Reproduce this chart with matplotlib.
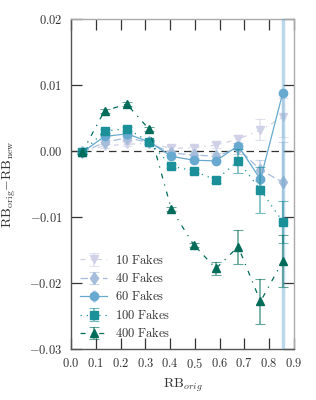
import matplotlib.pyplot as plt
import numpy as np
from matplotlib.ticker import FuncFormatter, MultipleLocator

plt.rcParams['mathtext.fontset'] = 'cm'
plt.rcParams['font.family'] = 'serif'
plt.rcParams['font.serif'] = ['DejaVu Serif']

rb = [0.045, 0.135, 0.225, 0.315, 0.405, 0.495, 0.585, 0.675, 0.765, 0.855]

d10 = [-0.0002, 0.0008, 0.0010, 0.0012, 0.0004, 0.0005, 0.0009, 0.0018, 0.0032, 0.0051]
e10 = [0.0002, 0.0003, 0.0003, 0.0003, 0.0003, 0.0003, 0.0004, 0.0006, 0.0016, 0.0030]
d40 = [-0.0002, 0.0013, 0.0020, 0.0013, -0.0003, -0.0006, -0.0008, 0.0004, -0.0029, -0.0047]
e40 = [0.0002, 0.0003, 0.0003, 0.0003, 0.0003, 0.0004, 0.0005, 0.0008, 0.0016, 0.0060]
d60 = [-0.0002, 0.0022, 0.0026, 0.0014, -0.0008, -0.0014, -0.0015, 0.0008, -0.0043, 0.0088]
e60 = [0.0002, 0.0003, 0.0003, 0.0003, 0.0003, 0.0004, 0.0004, 0.0006, 0.0010, 0.0400]
d100 = [-0.0002, 0.0030, 0.0034, 0.0014, -0.0023, -0.0030, -0.0044, -0.0015, -0.0059, -0.0107]
e100 = [0.0002, 0.0003, 0.0003, 0.0003, 0.0003, 0.0003, 0.0005, 0.0018, 0.0035, 0.0032]
d400 = [-0.0002, 0.0061, 0.0071, 0.0033, -0.0088, -0.0142, -0.0178, -0.0145, -0.0228, -0.0167]
e400 = [0.0002, 0.0003, 0.0003, 0.0003, 0.0003, 0.0003, 0.0010, 0.0026, 0.0034, 0.0039]

labels = ['10 Fakes', '40 Fakes', '60 Fakes', '100 Fakes', '400 Fakes']
colors = ['#d0d1e6', '#a6bddb', '#67a9cf', '#1c9099', '#016c59']
markers = ['v', 'd', 'o', 's', '^']
styles = [(0, (4, 4, 1, 4)), (0, (6, 3)), '-', (0, (1, 4)), (0, (4, 5, 1, 5))]

fig = plt.figure(figsize=(3.16, 4.0), dpi=100)
ax = fig.add_axes([0.225, 0.1275, 0.705, 0.825])

ax.axhline(0, color='#333333', lw=0.9, ls=(0, (6, 4)), zorder=1)

series = [(d10, e10), (d40, e40), (d60, e60), (d100, e100), (d400, e400)]
for i, (d, e) in enumerate(series):
    elw = 2.5 if i == 2 else 1.1
    cont = ax.errorbar(rb, d, yerr=e, color=colors[i], marker=markers[i], ms=6,
                       ls=styles[i], lw=0.9, ecolor=colors[i], elinewidth=elw,
                       capsize=3.5 if i != 2 else 0, capthick=0.8,
                       label=r'$\mathrm{%s}$' % labels[i].replace(' ', r'\ '),
                       zorder=2 + i)
    for c in cont[1]:
        c.set_alpha(0.6)
    for b in cont[2]:
        b.set_alpha(0.45 if i == 2 else 0.65)

ax.set_xlim(0, 0.9)
ax.set_ylim(-0.03, 0.02)
ax.xaxis.set_major_locator(MultipleLocator(0.1))
ax.yaxis.set_major_locator(MultipleLocator(0.01))
ax.xaxis.set_major_formatter(FuncFormatter(lambda v, p: r'$%.1f$' % v))
ax.yaxis.set_major_formatter(FuncFormatter(lambda v, p: r'$%.2f$' % (0 if abs(v) < 1e-9 else v)))
ax.tick_params(direction='in', length=8, width=0.9, top=True, right=True,
               labelsize=9, color='#333333', labelcolor='#333333', pad=6)
for s in ax.spines.values():
    s.set_color('#555555')
    s.set_linewidth(1.0)
ax.spines['right'].set_color('#aaaaaa')
ax.spines['top'].set_color('#aaaaaa')

ax.set_xlabel(r'$\mathrm{RB}_{orig}$', fontsize=10, color='#333333')
ax.set_ylabel(r'$\mathrm{RB_{orig}{-}RB_{new}}$', fontsize=10, color='#333333', labelpad=8)

leg = ax.legend(loc='lower left', frameon=False, fontsize=9, handlelength=2.2,
                handletextpad=0.6, labelspacing=0.35, borderaxespad=0.3,
                labelcolor='#333333')

plt.savefig('out.png', dpi=100)
